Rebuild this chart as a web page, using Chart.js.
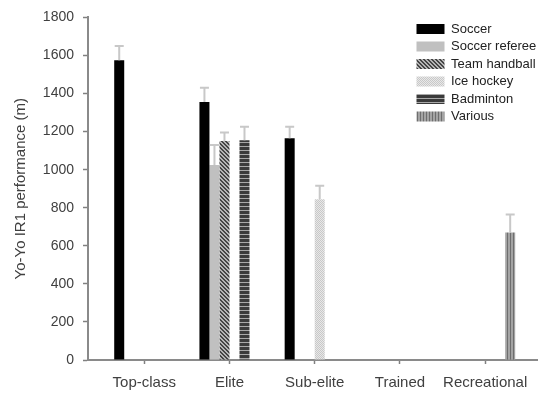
<!DOCTYPE html>
<html>
<head>
<meta charset="utf-8">
<script src="https://cdn.jsdelivr.net/npm/chart.js@4/dist/chart.umd.min.js"></script>
<style>
  html, body { margin: 0; padding: 0; background: #fff; }
</style>
</head>
<body>
<canvas id="grafico" width="538" height="396"></canvas>
<script>
// categories and series
const categorias = ['Top-class', 'Elite', 'Sub-elite', 'Trained', 'Recreational'];
const soccer      = [1575, 1355, 1165, null, null];
const soccerSd    = [75, 75, 60, null, null];
const referee     = [null, 1025, null, null, null];
const refereeSd   = [null, 105, null, null, null];
const handball    = [null, 1150, null, null, null];
const handballSd  = [null, 45, null, null, null];
const iceHockey   = [null, null, 845, null, null];
const iceHockeySd = [null, null, 70, null, null];
const badminton   = [null, 1155, null, null, null];
const badmintonSd = [null, 70, null, null, null];
const various     = [null, null, null, null, 670];
const variousSd   = [null, null, null, null, 95];
const yTicks = [0, 200, 400, 600, 800, 1000, 1200, 1400, 1600, 1800];

Chart.defaults.font.family = '"Liberation Sans", Arial, sans-serif';
Chart.defaults.color = '#404040';

function patron(w, h, pintar) {
  const c = document.createElement('canvas');
  c.width = w; c.height = h;
  const g = c.getContext('2d');
  pintar(g);
  return g.createPattern(c, 'repeat');
}

const rayasDiag = patron(4, 4, function(g) {
  g.fillStyle = '#b4b4b4'; g.fillRect(0, 0, 4, 4);
  g.fillStyle = '#444';
  for (let i = 0; i < 4; i++) { g.fillRect(i, i, 1, 1); g.fillRect((i + 1) % 4, i, 1, 1); }
});
const puntos = patron(2, 2, function(g) {
  g.fillStyle = '#e8e8e8'; g.fillRect(0, 0, 2, 2);
  g.fillStyle = '#c8c8c8'; g.fillRect(0, 0, 1, 1); g.fillRect(1, 1, 1, 1);
});
const rayasHoriz = patron(1, 4, function(g) {
  g.fillStyle = '#3a3a3a'; g.fillRect(0, 0, 1, 4);
  g.fillStyle = '#a8a8a8'; g.fillRect(0, 2, 1, 1);
});
const rayasVert = patron(3, 1, function(g) {
  g.fillStyle = '#a4a4a4'; g.fillRect(0, 0, 3, 1);
  g.fillStyle = '#6e6e6e'; g.fillRect(0, 0, 1, 1);
});

function serie(nombre, valores, sd, fondo) {
  return {
    label: nombre,
    data: valores.map(function(v, i) { return {x: i, y: v}; }),
    sd: sd,
    backgroundColor: fondo,
    borderWidth: 0
  };
}

const barrasError = {
  id: 'barrasError',
  afterDatasetsDraw(chart) {
    const ctx = chart.ctx;
    const y = chart.scales.y;
    ctx.save();
    ctx.strokeStyle = '#c8c8c8';
    ctx.lineWidth = 2;
    chart.data.datasets.forEach(function(ds, di) {
      const meta = chart.getDatasetMeta(di);
      meta.data.forEach(function(bar, i) {
        const punto = ds.data[i];
        if (punto.y == null || ds.sd[i] == null) return;
        const arriba = y.getPixelForValue(punto.y + ds.sd[i]);
        ctx.beginPath();
        ctx.moveTo(bar.x, bar.y);
        ctx.lineTo(bar.x, arriba);
        ctx.moveTo(bar.x - 4.5, arriba);
        ctx.lineTo(bar.x + 4.5, arriba);
        ctx.stroke();
      });
    });
    ctx.restore();
  }
};

// the legend sits inside the plot, top right
const leyendaDentro = {
  id: 'leyendaDentro',
  afterLayout(chart) {
    const lg = chart.legend;
    const w = lg.width;
    lg.left = 412;
    lg.right = lg.left + w;
    lg.top = 18;
    lg.bottom = chart.chartArea.bottom;
  }
};

const ctx = document.querySelector('#grafico');
new Chart(ctx, {
  type: 'bar',
  data: {
    datasets: [
      serie('Soccer', soccer, soccerSd, '#000000'),
      serie('Soccer referee', referee, refereeSd, '#c0c0c0'),
      serie('Team handball', handball, handballSd, rayasDiag),
      serie('Ice hockey', iceHockey, iceHockeySd, puntos),
      serie('Badminton', badminton, badmintonSd, rayasHoriz),
      serie('Various', various, variousSd, rayasVert)
    ]
  },
  options: {
    responsive: false,
    animation: false,
    devicePixelRatio: 1,
    categoryPercentage: 0.705,
    barPercentage: 1,
    layout: { padding: { top: 15, left: 0, right: 0, bottom: 0 } },
    plugins: {
      tooltip: { enabled: false },
      legend: {
        position: 'chartArea',
        align: 'start',
        labels: {
          boxWidth: 28,
          boxHeight: 10,
          padding: 4.5,
          color: '#222',
          font: { size: 13 }
        }
      }
    },
    scales: {
      x: {
        type: 'linear',
        offset: false,
        min: -0.66,
        max: 4.62,
        grid: { display: true, offset: false, drawOnChartArea: false, tickLength: 4, color: '#808080', tickWidth: 1.5 },
        border: { color: '#8a8a8a', width: 2 },
        ticks: {
          stepSize: 1,
          includeBounds: false,
          padding: 10,
          font: { size: 15 },
          color: '#404040',
          callback: function(v) { return categorias[v] !== undefined ? categorias[v] : ''; }
        },
        afterFit: function(s) { s.height = 36; }
      },
      y: {
        min: 0,
        max: 1800,
        afterBuildTicks: function(s) { s.ticks = yTicks.map(function(v) { return {value: v}; }); },
        grid: { drawOnChartArea: false, tickLength: 5, color: '#808080', tickWidth: 1.5 },
        border: { color: '#8a8a8a', width: 2 },
        ticks: {
          padding: 9,
          font: { size: 14 },
          color: '#404040',
          callback: function(v) { return String(v); }
        },
        title: {
          display: true,
          text: 'Yo-Yo IR1 performance (m)',
          font: { size: 15 },
          color: '#404040',
          padding: { top: 12, bottom: 0 }
        },
        afterFit: function(s) { s.width = 88; }
      }
    }
  },
  plugins: [barrasError, leyendaDentro]
});
</script>
</body>
</html>
